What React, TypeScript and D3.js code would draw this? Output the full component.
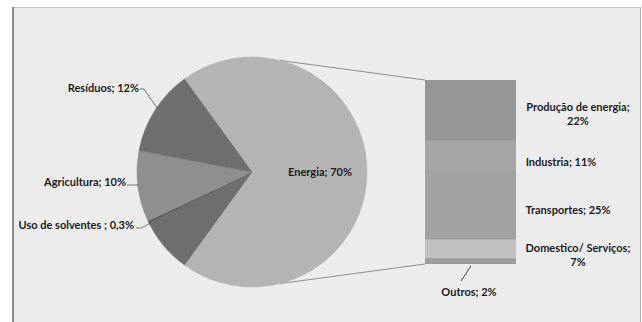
import React from "react";
import * as d3 from "d3";

// Main pie: sources of emissions (%), in clockwise order starting at the Energia slice
const pieNames = ["Energia", "Processos industriais", "Uso de solventes ", "Agricultura", "Resíduos"];
const pieValues = [70, 7.7, 0.3, 10, 12];
const pieLabels = ["Energia; 70%", "", "Uso de solventes ; 0,3%", "Agricultura; 10%", "Resíduos; 12%"];
const pieColors = ["#b4b4b4", "#6e6e6e", "#5a5a5a", "#8f8f8f", "#6e6e6e"];

// Breakdown of the Energia slice
const barNames = ["Produção de energia", "Industria", "Transportes", "Domestico/ Serviços", "Outros"];
const barValues = [22, 11, 25, 7, 2];
const barLabelLines = [["Produção de energia;", "22%"], ["Industria; 11%"], ["Transportes; 25%"], ["Domestico/ Serviços;", "7%"], ["Outros; 2%"]];
const barColors = ["#969696", "#a6a6a6", "#a2a2a2", "#c0c0c0", "#9c9c9c"];

const W = 642;
const H = 322;
const cx = 252;
const cy = 172;
const R = 115;
const deg = Math.PI / 180;

export default function App() {
  const energyShare = pieValues[0] / d3.sum(pieValues);
  // Energia slice is centred on the right side, facing the bar
  const start = Math.PI / 2 - energyShare * Math.PI;
  const pie = d3.pie<number>().sort(null).value((d) => d).startAngle(start).endAngle(start + 2 * Math.PI);
  const arcs = pie(pieValues);
  const arcGen = d3.arc<d3.PieArcDatum<number>>().innerRadius(0).outerRadius(R);

  const barX0 = 425;
  const barX1 = 516;
  const y = d3.scaleLinear().domain([0, d3.sum(barValues)]).range([80, 264]);
  const cum = d3.cumsum(barValues);
  const segs = barValues.map((v, i) => ({ v, y0: y(cum[i] - v), y1: y(cum[i]) }));

  const pt = (a: number, r: number) => [cx + r * Math.sin(a), cy - r * Math.cos(a)];
  const topPt = pt(14 * deg, R);
  const botPt = pt(166 * deg, R);

  const font = "Lato, 'Open Sans', sans-serif";
  const txt = "#1c1c1c";

  // Left-side label placement (label anchor end x, y; leader polyline)
  const leftLabels: Record<number, { x: number; y: number; line: number[][] }> = {
    4: { x: 139, y: 92, line: [[140, 89], [144, 89], [157, 108]] },
    3: { x: 126, y: 186, line: [[127, 185], [139, 185]] },
    2: { x: 134, y: 229, line: [[136, 228], [141, 228], [151, 223]] },
  };

  const barLabelPos = [
    { x: 578, y: 111 },
    { x: 561, y: 166 },
    { x: 568, y: 214 },
    { x: 578, y: 252 },
    { x: 469, y: 296 },
  ];

  return (
    <svg width={W} height={H} style={{ position: "absolute", left: 0, top: 0 }}>
      <rect x={0} y={0} width={W} height={H} fill="#ffffff" />
      <rect x={12} y={7} width={628} height={H} fill="#ececec" />
      <line x1={12} y1={7.5} x2={640} y2={7.5} stroke="#c8c8c8" />
      <line x1={13} y1={7} x2={13} y2={H} stroke="#8a8a8a" strokeWidth={2} />
      <line x1={640.5} y1={7} x2={640.5} y2={H} stroke="#b0b0b0" />

      {/* connector lines between the Energia slice and the breakdown bar */}
      <line x1={topPt[0]} y1={topPt[1]} x2={barX0} y2={y(0)} stroke="#8c8c8c" />
      <line x1={botPt[0]} y1={botPt[1]} x2={barX0} y2={y(d3.sum(barValues))} stroke="#8c8c8c" />

      <g transform={`translate(${cx},${cy})`}>
        {arcs.map((a, i) => (
          <path key={pieNames[i]} d={arcGen(a) || ""} fill={pieColors[i]} stroke={pieColors[i]} strokeWidth={0.6} />
        ))}
      </g>

      {segs.map((s, i) => (
        <rect key={barNames[i]} x={barX0} y={s.y0} width={barX1 - barX0} height={s.y1 - s.y0} fill={barColors[i]} />
      ))}
      {segs.slice(1).map((s, i) => (
        <line key={"sep" + i} x1={barX0} x2={barX1} y1={s.y0} y2={s.y0} stroke="#9a9a9a" strokeWidth={0.7} />
      ))}

      <g fontFamily={font} fontWeight="bold" fontSize={11} fill={txt}>
        <text x={320} y={176} textAnchor="middle">{pieLabels[0]}</text>
        {[2, 3, 4].map((i) => {
          const L = leftLabels[i];
          return (
            <g key={"ll" + i}>
              <polyline points={L.line.map((p) => p.join(",")).join(" ")} fill="none" stroke="#555" strokeWidth={0.8} />
              <text x={L.x} y={L.y} textAnchor="end">{pieLabels[i]}</text>
            </g>
          );
        })}
        {barLabelLines.map((lines, i) => (
          <text key={"bl" + i} x={barLabelPos[i].x} y={barLabelPos[i].y} textAnchor="middle">
            {lines.map((l, j) => (
              <tspan key={j} x={barLabelPos[i].x} dy={j === 0 ? 0 : 14}>{l}</tspan>
            ))}
          </text>
        ))}
        <line x1={471} y1={266} x2={461} y2={281} stroke="#444" strokeWidth={1} />
      </g>
    </svg>
  );
}
